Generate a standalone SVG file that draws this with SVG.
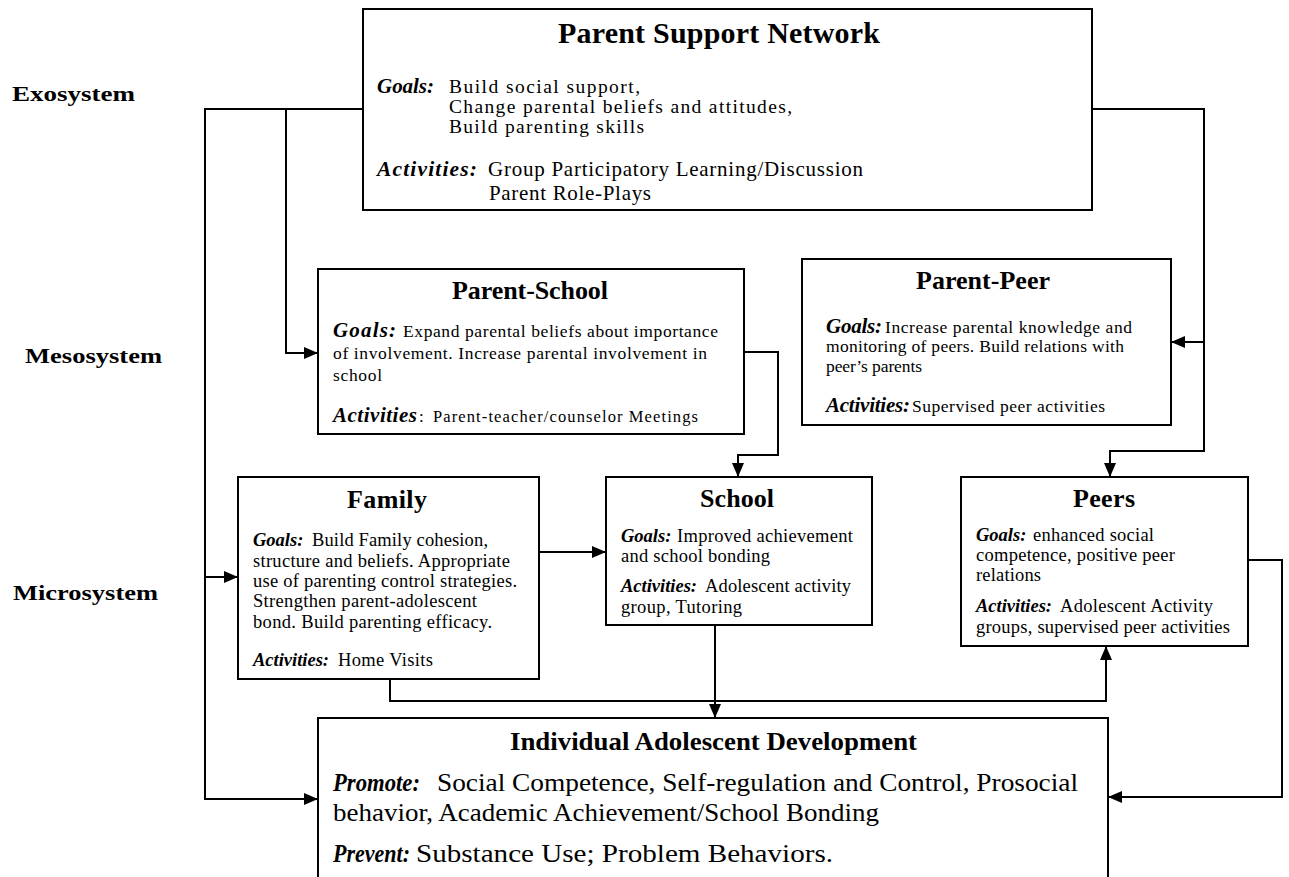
<svg xmlns="http://www.w3.org/2000/svg" width="1289" height="877" viewBox="0 0 1289 877">
<style>
text{font-family:"Liberation Serif","Times New Roman",serif;fill:#000}
.sys{font-size:21px;font-weight:bold}
.ttl{font-weight:bold;font-size:26px}
.lab{font-weight:bold;font-style:italic}
.box{fill:#fff;stroke:#000;stroke-width:2}
.c{fill:none;stroke:#000;stroke-width:2}
</style>
<defs>
<marker id="ah" markerUnits="userSpaceOnUse" markerWidth="14" markerHeight="12" refX="14" refY="6" orient="auto" viewBox="0 0 14 12">
<path d="M0,0 L14,6 L0,12 z" fill="#000"/>
</marker>
</defs>
<rect width="1289" height="877" fill="#fff"/>

<g id="labels">
<text class="sys" x="12" y="101" textLength="123" lengthAdjust="spacingAndGlyphs">Exosystem</text>
<text class="sys" x="25" y="363" textLength="137" lengthAdjust="spacingAndGlyphs">Mesosystem</text>
<text class="sys" x="13" y="600" textLength="145" lengthAdjust="spacingAndGlyphs">Microsystem</text>
</g>

<g id="connectors">
<path class="c" d="M363,109 H286 V353 H318" marker-end="url(#ah)"/>
<path class="c" d="M286,109 H205 V577 H238" marker-end="url(#ah)"/>
<path class="c" d="M205,577 V799 H318" marker-end="url(#ah)"/>
<path class="c" d="M1092,109 H1204 V342 H1171" marker-end="url(#ah)"/>
<path class="c" d="M1204,342 V451 H1110 V477" marker-end="url(#ah)"/>
<path class="c" d="M744,352 H778 V455 H738 V477" marker-end="url(#ah)"/>
<path class="c" d="M539,552 H606" marker-end="url(#ah)"/>
<path class="c" d="M715,625 V718" marker-end="url(#ah)"/>
<path class="c" d="M390,679 V701 H1106 V646" marker-end="url(#ah)"/>
<path class="c" d="M1248,560 H1282 V797 H1108" marker-end="url(#ah)"/>
</g>

<g id="parent-support-network">
<rect class="box" x="363" y="9" width="729" height="201"/>
<text class="ttl" x="558" y="43" style="font-size:30px" textLength="322">Parent Support Network</text>
<text class="lab" x="377" y="93" style="font-size:21px" textLength="57">Goals:</text>
<text x="449" y="93" style="font-size:19.5px" textLength="191">Build social support,</text>
<text x="449" y="113" style="font-size:19.5px" textLength="343">Change parental beliefs and attitudes,</text>
<text x="449" y="133" style="font-size:19.5px" textLength="195">Build parenting skills</text>
<text class="lab" x="377" y="176" style="font-size:21.5px" textLength="100">Activities:</text>
<text x="488" y="176" style="font-size:21px" textLength="375">Group Participatory Learning/Discussion</text>
<text x="489" y="200" style="font-size:21px" textLength="162">Parent Role-Plays</text>
</g>

<g id="parent-school">
<rect class="box" x="318" y="269" width="426" height="165"/>
<text class="ttl" x="452" y="299" textLength="156">Parent-School</text>
<text class="lab" x="333" y="337" style="font-size:21px" textLength="63">Goals:</text>
<text x="403" y="337" style="font-size:17.5px" textLength="315">Expand parental beliefs about importance</text>
<text x="333" y="359" style="font-size:17.5px" textLength="374">of involvement. Increase parental involvement in</text>
<text x="333" y="381" style="font-size:17.5px" textLength="49">school</text>
<text class="lab" x="333" y="422" style="font-size:21px" textLength="84">Activities</text>
<text x="419" y="422" style="font-size:17px">:</text>
<text x="433" y="422" style="font-size:16.5px" textLength="265">Parent-teacher/counselor Meetings</text>
</g>

<g id="parent-peer">
<rect class="box" x="802" y="259" width="369" height="166"/>
<text class="ttl" x="916" y="289" textLength="134">Parent-Peer</text>
<text class="lab" x="826" y="333" style="font-size:21px" textLength="56">Goals:</text>
<text x="885" y="333" style="font-size:17.5px" textLength="247">Increase parental knowledge and</text>
<text x="826" y="352" style="font-size:17.5px" textLength="298">monitoring of peers. Build relations with</text>
<text x="826" y="372" style="font-size:17.5px" textLength="96">peer’s parents</text>
<text class="lab" x="826" y="412" style="font-size:21px" textLength="84">Activities:</text>
<text x="912" y="412" style="font-size:17.5px" textLength="193">Supervised peer activities</text>
</g>

<g id="family">
<rect class="box" x="238" y="477" width="301" height="202"/>
<text class="ttl" x="347" y="508" textLength="80">Family</text>
<text class="lab" x="253" y="546" style="font-size:18.5px">Goals:</text>
<text x="312" y="546" style="font-size:18.5px" textLength="176">Build Family cohesion,</text>
<text x="253" y="567" style="font-size:18.5px" textLength="257">structure and beliefs. Appropriate</text>
<text x="253" y="587" style="font-size:18.5px" textLength="264">use of parenting control strategies.</text>
<text x="253" y="607" style="font-size:18.5px" textLength="224">Strengthen parent-adolescent</text>
<text x="253" y="628" style="font-size:18.5px" textLength="239">bond. Build parenting efficacy.</text>
<text class="lab" x="253" y="666" style="font-size:18.5px">Activities:</text>
<text x="338" y="666" style="font-size:18.5px" textLength="95">Home Visits</text>
</g>

<g id="school">
<rect class="box" x="606" y="477" width="266" height="148"/>
<text class="ttl" x="700" y="507" textLength="74">School</text>
<text class="lab" x="621" y="542" style="font-size:18.5px">Goals:</text>
<text x="677" y="542" style="font-size:18.5px" textLength="176">Improved achievement</text>
<text x="621" y="562" style="font-size:18.5px" textLength="149">and school bonding</text>
<text class="lab" x="621" y="592" style="font-size:18.5px">Activities:</text>
<text x="705" y="592" style="font-size:18.5px" textLength="146">Adolescent activity</text>
<text x="621" y="613" style="font-size:18.5px" textLength="121">group, Tutoring</text>
</g>

<g id="peers">
<rect class="box" x="961" y="477" width="287" height="169"/>
<text class="ttl" x="1073" y="507" textLength="62">Peers</text>
<text class="lab" x="976" y="541" style="font-size:18.5px">Goals:</text>
<text x="1033" y="541" style="font-size:18.5px" textLength="121">enhanced social</text>
<text x="976" y="561" style="font-size:18.5px" textLength="199">competence, positive peer</text>
<text x="976" y="581" style="font-size:18.5px" textLength="65">relations</text>
<text class="lab" x="976" y="612" style="font-size:18.5px">Activities:</text>
<text x="1060" y="612" style="font-size:18.5px" textLength="153">Adolescent Activity</text>
<text x="976" y="633" style="font-size:18.5px" textLength="254">groups, supervised peer activities</text>
</g>

<g id="individual-adolescent-development">
<rect class="box" x="318" y="718" width="790" height="200"/>
<text class="ttl" x="510" y="750" style="font-size:25px" textLength="407" lengthAdjust="spacingAndGlyphs">Individual Adolescent Development</text>
<text class="lab" x="333" y="791" style="font-size:26px" textLength="87" lengthAdjust="spacingAndGlyphs">Promote:</text>
<text x="437" y="791" style="font-size:26px" textLength="641" lengthAdjust="spacingAndGlyphs">Social Competence, Self-regulation and Control, Prosocial</text>
<text x="333" y="821" style="font-size:26px" textLength="546" lengthAdjust="spacingAndGlyphs">behavior, Academic Achievement/School Bonding</text>
<text class="lab" x="333" y="862" style="font-size:26px" textLength="77" lengthAdjust="spacingAndGlyphs">Prevent:</text>
<text x="416" y="862" style="font-size:26px" textLength="417" lengthAdjust="spacingAndGlyphs">Substance Use; Problem Behaviors.</text>
</g>
</svg>
